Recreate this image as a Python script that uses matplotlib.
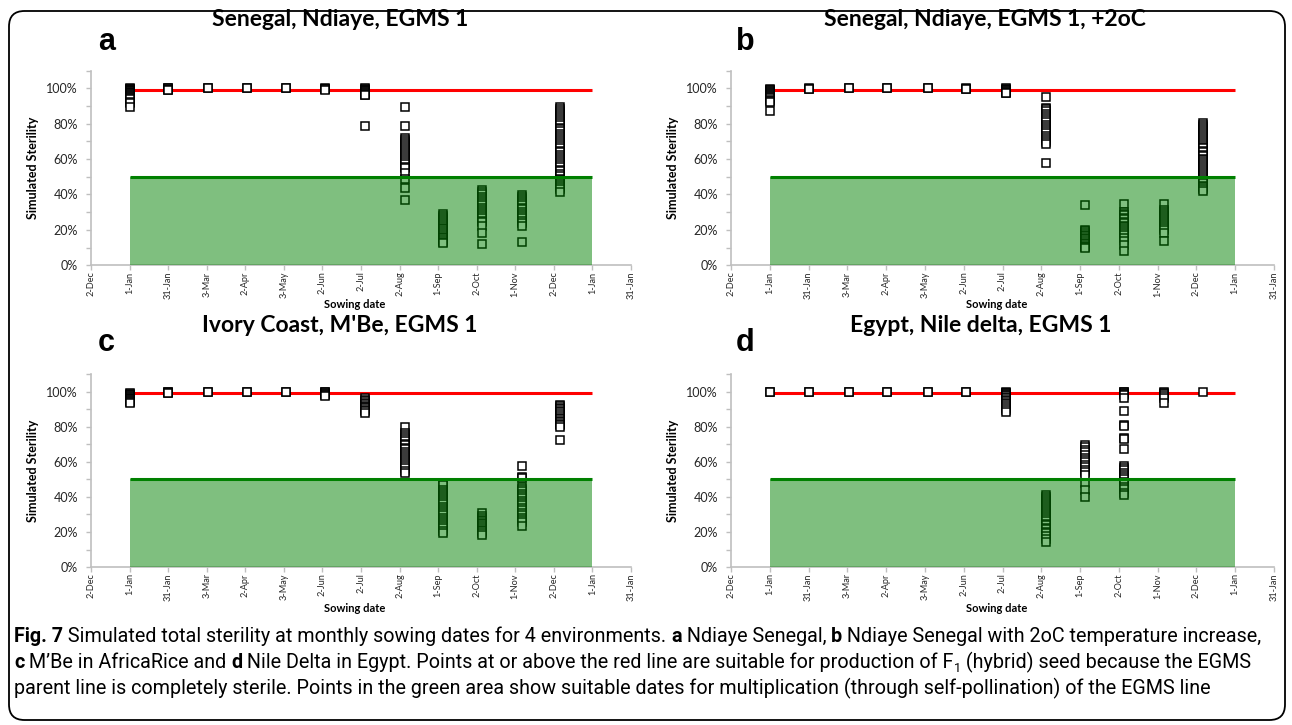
import matplotlib
matplotlib.use("Agg")
import matplotlib.pyplot as plt
from matplotlib.patches import FancyBboxPatch

# ── Data ──────────────────────────────────────────────────
# x axis in days after 2-Dec; one tick every 30 days
tick_labels = ["2-Dec", "1-Jan", "31-Jan", "3-Mar", "2-Apr", "3-May", "2-Jun",
               "2-Jul", "2-Aug", "1-Sep", "2-Oct", "1-Nov", "2-Dec", "1-Jan", "31-Jan"]
sowing_day = [30, 60, 91, 121, 152, 182, 213, 244, 274, 304, 335, 365]

titles = ["Senegal, Ndiaye, EGMS 1", "Senegal, Ndiaye, EGMS 1, +2oC",
          "Ivory Coast, M'Be, EGMS 1", "Egypt, Nile delta, EGMS 1"]
letters = ["a", "b", "c", "d"]

F1_LIMIT = 99      # full sterility -> hybrid seed production
SELF_LIMIT = 50    # below -> multiplication by self-pollination

# simulated sterility (%) per sowing month, Jan..Dec
ndiaye = [
    [100, 99.8, 99.5, 99.2, 99, 98.6, 98.3, 97.9, 97.5, 97.1, 96.6, 96.1, 95.4, 95, 94.3, 93.8, 92.5, 91.6, 89.5],
    [100, 99.9, 99.6, 99.3, 99],
    [100, 99.9],
    [100, 99.9],
    [100, 99.9],
    [100, 99.8, 99.4, 99.1],
    [100, 99.7, 99.3, 99, 98.5, 98.2, 97.8, 97.3, 97, 96.4, 96, 78.7],
    [89.2, 78.9, 71.8, 70.6, 69.9, 68.4, 67.2, 66.5, 65.1, 64.2, 63, 61.9, 60.8, 59.6, 58.5, 57.1, 55.7, 54.8, 52.1, 48.6, 43.9, 36.6],
    [29.2, 27.7, 26.8, 25.4, 24.3, 23.2, 22, 21.1, 20.2, 19.4, 18.4, 17.3, 16.1, 15.2, 14.1, 13.2, 12.5],
    [42.4, 41.1, 40, 38.6, 37.5, 36.1, 35, 33.9, 32.4, 31.3, 30.3, 29, 27.9, 26.5, 25.2, 24.2, 22.2, 18.1, 12],
    [39.6, 38.4, 37.5, 36.1, 35.1, 34.1, 32.6, 31.5, 30.2, 29.1, 27.7, 26.4, 25.2, 23.7, 22, 13.3],
    [89.2, 88.1, 87.1, 86, 84.7, 83.8, 82.4, 81.5, 80.1, 79.1, 77.8, 76.8, 75.7, 74.2, 73.3, 72, 70.9, 69.5, 68.5,
     67.2, 66.1, 64.8, 63.8, 62.3, 61.2, 60.1, 58.7, 57.8, 56.4, 55.4, 54, 53, 51.7, 50.5, 49, 48, 46.6, 45.5, 44, 43, 41.6],
]
ndiaye_2c = [
    [99.5, 99.1, 98.8, 98.3, 97.8, 97.4, 96.9, 96.2, 95.7, 95, 94.4, 93.6, 92.9, 92.2, 87.3],
    [100, 99.8, 99.5],
    [100, 99.9],
    [100, 99.9],
    [100, 99.9],
    [100, 99.8, 99.5],
    [100, 99.6, 99.1, 98.8, 98.3, 98, 97.6, 97.1],
    [94.9, 89, 88.3, 86.9, 85.5, 84.4, 83.3, 81.9, 80.8, 79.5, 78.3, 77, 75.7, 74.6, 73.1, 72.1, 70.8, 69.4, 68.5, 58],
    [34, 19.9, 19.1, 18.1, 17.3, 16.5, 15.4, 14.6, 13.8, 12.7, 11.9, 11.1, 10.2, 9.5],
    [34.6, 30.2, 29, 28.1, 26.8, 25.9, 24.6, 23.7, 22.4, 21.5, 20.2, 19.3, 18, 16.9, 15.1, 13.9, 11.6, 8.2],
    [34.4, 31.1, 30.1, 28.8, 27.9, 26.6, 25.7, 24.4, 23.5, 22.2, 21.1, 19.8, 18, 13.7],
    [80.2, 79.2, 77.9, 77, 75.7, 74.8, 73.5, 72.6, 71.3, 70.4, 69.1, 68.2, 66.9, 66, 64.7, 63.8, 62.5, 61.6,
     60.3, 59.4, 58.1, 57.2, 55.9, 55, 53.7, 52.8, 51.5, 50.6, 49.3, 48.4, 47.1, 46.2, 44.9, 44, 42.8, 41.7],
]
mbe = [
    [99.2, 98.8, 98.3, 97.8, 97.4, 97, 96.4, 96, 95.5, 95.1, 94.5, 94.1, 93.6],
    [100, 99.6, 99.3, 99],
    [100, 99.9],
    [100, 99.9],
    [100, 99.9],
    [100, 99.5, 99, 98.4, 98, 97.6],
    [96.2, 95.3, 94.5, 93.7, 92.8, 92, 91.2, 90.4, 89.5, 88.7, 87.6],
    [80, 76.2, 75.1, 73.9, 72.8, 71.7, 70.4, 69.4, 68.1, 67, 65.7, 64.6, 63.4, 62.3, 61, 59.8, 58.7, 57.4, 56.3, 55, 53.4],
    [47.7, 46.5, 44.2, 43, 41.7, 40.6, 39.3, 38.1, 36.9, 35.7, 34.4, 33.2, 31.9, 30.7, 29.4, 28.1, 27, 25.7, 24.6,
     23.3, 22.1, 20.6, 19.3],
    [30.6, 29.3, 28.1, 27, 26.2, 25.1, 24.3, 23.2, 22.4, 21.3, 20.5, 19.3, 18.3],
    [57.6, 51.5, 50.6, 45.8, 44.4, 43.3, 41.8, 40.6, 39.1, 37.9, 36.4, 35.2, 33.7, 32.5, 30.9, 29.7, 28.2, 26.9, 25.5, 23.4],
    [92.4, 91.5, 90.7, 89.9, 88.8, 88.1, 87, 86.3, 85.2, 84.4, 83.5, 82.4, 81.7, 80.7, 80, 72.4],
]
nile = [
    [100, 99.9],
    [100, 99.9],
    [100, 99.9],
    [100, 99.9],
    [100, 99.9],
    [100, 99.9],
    [100, 99.4, 99, 98.4, 97.8, 97.3, 96.6, 96.1, 95.3, 94.6, 93.7, 92.8, 91.6, 90.5, 89.6, 88.6],
    [41.1, 39.9, 38.8, 37.6, 36.6, 35.3, 34.2, 33.1, 31.8, 30.8, 29.5, 28.5, 27.2, 26.1, 24.8, 23.9, 22.5,
     21.5, 20.2, 19.2, 17.6, 16, 14.5],
    [69.6, 68.2, 66.6, 65.3, 63.7, 62.4, 60.9, 59.7, 58.1, 56.9, 55.3, 54.1, 52.5, 47.7, 43.9, 40.1],
    [100, 99.5, 99.1, 98.4, 97.8, 96.2, 88.9, 81.2, 80.5, 73.6, 72.9, 67.1, 57.8, 56.4, 55.3, 53.8, 52.7,
     51.2, 50.1, 48.6, 47.5, 45.9, 44.3, 42.4, 41.1],
    [100, 99.2, 98.4, 97.6, 96.6, 93.6],
    [100],
]
panels = [ndiaye, ndiaye_2c, mbe, nile]

# ── Layout ────────────────────────────────────────────────
W, H = 1292, 725
FONT = ["Lato", "DejaVu Sans"]
CAP_FONT = ["Roboto", "DejaVu Sans"]
GRAY = "#bfbfbf"

# axes boxes in pixels: left, top(110%), right, bottom(0%)
boxes = [(91, 70.6, 631, 265.2), (731, 70.6, 1274, 265.2),
         (91, 374, 631, 567.1), (731, 374, 1274, 567.1)]
title_xy = [(340, 19), (985, 19), (340, 325), (981, 325)]
letter_xy = [(98, 42), (736, 42), (98, 343), (736, 343)]
xlabel_y = [305, 305, 609, 609]

fig = plt.figure(figsize=(W / 100, H / 100), dpi=100)
fig.patch.set_facecolor("white")


def px(x, y):
    return x / W, 1 - y / H


for i, data in enumerate(panels):
    l, t, r, b = boxes[i]
    ax = fig.add_axes([l / W, 1 - b / H, (r - l) / W, (b - t) / H])

    ax.plot([30, 390], [F1_LIMIT, F1_LIMIT], color="#ff0000", lw=2.2, zorder=1,
            solid_capstyle="butt")
    for day, vals in zip(sowing_day, data):
        ax.plot([day] * len(vals), vals, ls="none", marker="s", ms=5.2,
                mfc="white", mec="black", mew=1.1, zorder=2)
    ax.fill_between([30, 390], 0, SELF_LIMIT, color="#008000", alpha=0.5,
                    lw=0, zorder=3)
    ax.plot([30, 390], [SELF_LIMIT, SELF_LIMIT], color="#008000", lw=2.2,
            zorder=4, solid_capstyle="butt")

    ax.set_xlim(0, 420)
    ax.set_ylim(0, 110)
    ax.set_xticks(range(0, 421, 30))
    ax.set_xticklabels(tick_labels, rotation=90, fontsize=6.6, family=FONT,
                       color="#262626")
    ax.set_yticks(range(0, 101, 20))
    ax.set_yticks(range(10, 111, 20), minor=True)
    ax.set_yticklabels([f"{v}%" for v in range(0, 101, 20)], fontsize=9,
                       family=FONT, color="#262626")
    ax.tick_params(axis="both", which="both", direction="out", length=3.5,
                   width=1, color=GRAY)
    ax.tick_params(axis="y", pad=6)
    ax.tick_params(axis="x", pad=1)
    for side in ("top", "right"):
        ax.spines[side].set_visible(False)
    for side in ("left", "bottom"):
        ax.spines[side].set_color(GRAY)
        ax.spines[side].set_linewidth(1.2)
    ax.set_facecolor("none")

    ax.set_ylabel("Simulated Sterility", fontsize=9, fontweight="bold",
                  family=FONT, labelpad=5)
    fig.text(*px((l + r) / 2 - 6, xlabel_y[i]), "Sowing date", ha="center",
             va="center", fontsize=8, fontweight="bold", family=FONT)

    fig.text(*px(*title_xy[i]), titles[i], ha="center", va="center",
             fontsize=16.5, fontweight="bold", family=FONT)
    fig.text(*px(*letter_xy[i]), letters[i], ha="left", va="center",
             fontsize=22, fontweight="bold", family=["Liberation Sans", "DejaVu Sans"])

# ── Caption ───────────────────────────────────────────────
renderer = fig.canvas.get_renderer()

caption = [
    [("Fig. 7", True, 1, 0),
     (" Simulated total sterility at monthly sowing dates for 4 environments. ", False, 1, 0),
     ("a", True, 1, 0), (" Ndiaye Senegal, ", False, 1, 0),
     ("b", True, 1, 0), (" Ndiaye Senegal with 2oC temperature increase,", False, 1, 0)],
    [("c", True, 1, 0), (" M\u2019Be in AfricaRice and ", False, 1, 0),
     ("d", True, 1, 0),
     (" Nile Delta in Egypt. Points at or above the red line are suitable for production of F",
      False, 1, 0),
     ("1", False, 0.65, 4),
     (" (hybrid) seed because the EGMS", False, 1, 0)],
    [("parent line is completely sterile. Points in the green area show suitable dates for "
      "multiplication (through self-pollination) of the EGMS line", False, 1, 0)],
]

# size the caption so the first line spans the frame width
probe = fig.text(0, 0, "".join(s for s, *_ in caption[0]), fontsize=10,
                 family=CAP_FONT)
CAP_SIZE = 10 * 1243 / probe.get_window_extent(renderer=renderer).width
probe.remove()


def draw_runs(x, y, runs):
    # runs: (text, bold, size factor, baseline shift in px)
    for s, bold, k, dy in runs:
        txt = fig.text(x / W, 1 - (y + dy) / H, s, fontsize=CAP_SIZE * k,
                       fontweight="bold" if bold else "normal",
                       family=CAP_FONT, va="baseline", ha="left")
        x += txt.get_window_extent(renderer=renderer).width


for n, runs in enumerate(caption):
    draw_runs(14, 642 + 26 * n, runs)

# rounded frame around the whole figure
frame = FancyBboxPatch((9 / W, 1 - 720 / H), 1276 / W, 709 / H,
                       boxstyle="round,pad=0,rounding_size=0.012",
                       transform=fig.transFigure, fill=False, ec="black",
                       lw=1.3, mutation_aspect=W / H)
fig.patches.append(frame)

fig.savefig("out.png", dpi=100)
